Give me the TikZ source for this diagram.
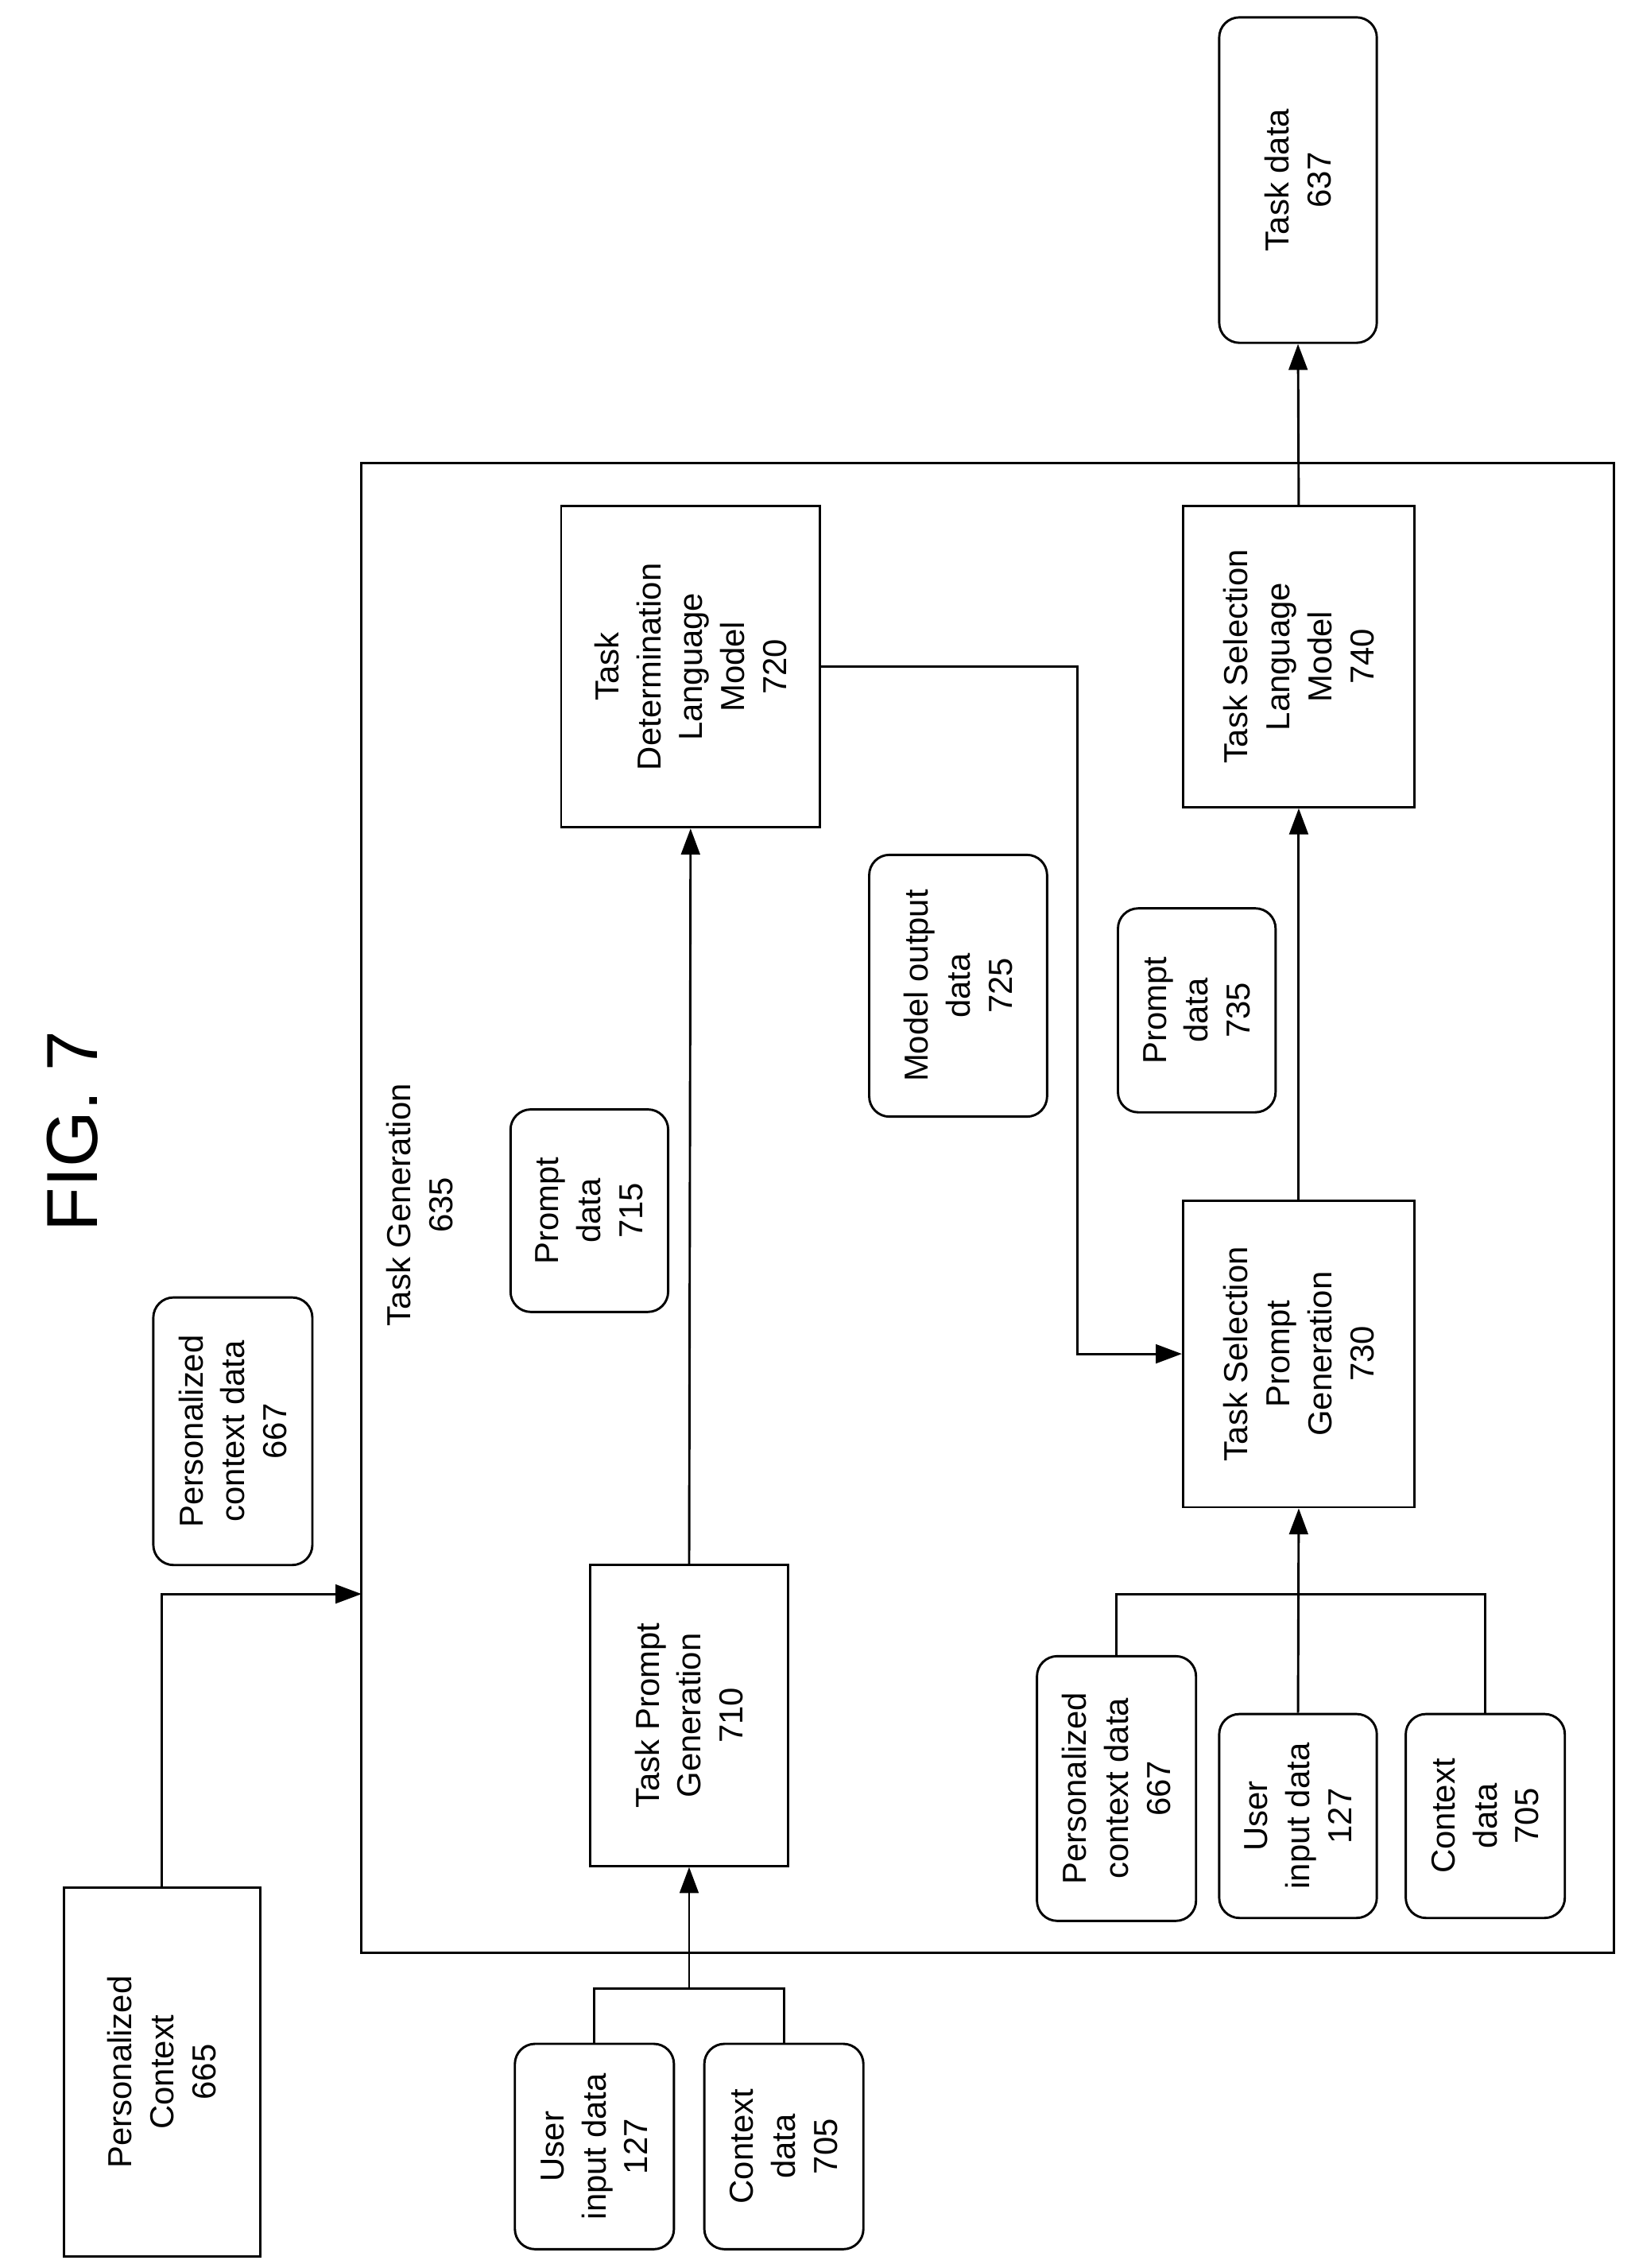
\documentclass[tikz,border=0pt]{standalone}
\usepackage{fontspec}
\setmainfont{Liberation Sans}
\usetikzlibrary{arrows.meta}
\tikzset{
  blk/.style={draw, line width=1.6pt, rotate=90, align=center, inner sep=0pt},
  rblk/.style={blk, rounded corners=14pt},
  txt/.style={rotate=90, align=center, inner sep=0pt},
  flow/.style={line width=1.6pt, -{Triangle[length=18pt,width=13pt]}},
  line/.style={line width=1.6pt}
}
\begin{document}
\begin{tikzpicture}[x=1pt,y=1pt,yscale=-1,font=\fontsize{23}{29}\selectfont]
        \useasboundingbox (0,0) rectangle (1130,1568);
        
        %Shape: outer box
        \node [blk, minimum width=1030, minimum height=866] (gen635) at (683,835) {};
        % Text Node
        \node [txt] (lbl635) at (290,833) {Task Generation\\635};
        % Text Node
        \node [txt, font=\fontsize{50}{60}\selectfont] (fig) at (50,782) {FIG. 7};
        
        %Shape: boxes
        \node [rblk, minimum width=225, minimum height=109] (td637) at (897.5,124.5) {Task data\\637};
        \node [blk, minimum width=222, minimum height=179] (tdlm720) at (477.5,461) {Task\\Determination\\Language\\Model\\720};
        \node [blk, minimum width=208, minimum height=160] (tslm740) at (898,454) {Task Selection\\Language\\Model\\740};
        \node [rblk, minimum width=181, minimum height=123] (mo725) at (662.5,681.5) {Model output\\data\\725};
        \node [rblk, minimum width=141, minimum height=109] (pd735) at (827.5,698.5) {Prompt\\data\\735};
        \node [rblk, minimum width=140, minimum height=109] (pd715) at (407.5,837) {Prompt\\data\\715};
        \node [blk, minimum width=212, minimum height=160] (tspg730) at (898,936) {Task Selection\\Prompt\\Generation\\730};
        \node [blk, minimum width=208, minimum height=137] (tpg710) at (476.5,1186) {Task Prompt\\Generation\\710};
        \node [rblk, minimum width=185, minimum height=110] (pcd667a) at (161,989.5) {Personalized\\context data\\667};
        \node [blk, minimum width=255, minimum height=136] (pc665) at (112,1432.5) {Personalized\\Context\\665};
        \node [rblk, minimum width=142, minimum height=110] (uid127a) at (411,1484) {User\\input data\\127};
        \node [rblk, minimum width=142, minimum height=110] (cd705a) at (542,1484) {Context\\data\\705};
        \node [rblk, minimum width=183, minimum height=110] (pcd667b) at (772,1236.5) {Personalized\\context data\\667};
        \node [rblk, minimum width=141, minimum height=109] (uid127b) at (897.5,1255.5) {User\\input data\\127};
        \node [rblk, minimum width=141, minimum height=110] (cd705b) at (1027,1255.5) {Context\\data\\705};
        \coordinate (in635) at (250,1102);
        
        %Straight Lines
        \draw [flow] (tslm740.east) -- (td637.west);
        \draw [flow] (tpg710.east) -- (tdlm720.west);
        \draw [flow] (tspg730.east) -- (tslm740.west);
        \draw [flow] (tdlm720.south) -- (745,461) |- (tspg730.north);
        \draw [line] (uid127a.east) |- (cd705a.east |- 0,1375) -- (cd705a.east);
        \draw [flow] (tpg710.west |- 0,1375) -- (tpg710.west);
        \draw [line] (pcd667b.east) |- (cd705b.east |- 0,1102) -- (cd705b.east);
        \draw [flow] (uid127b.east) -- (tspg730.west);
        \draw [flow] (pc665.east) |- (in635);
        
\end{tikzpicture}
\end{document}
